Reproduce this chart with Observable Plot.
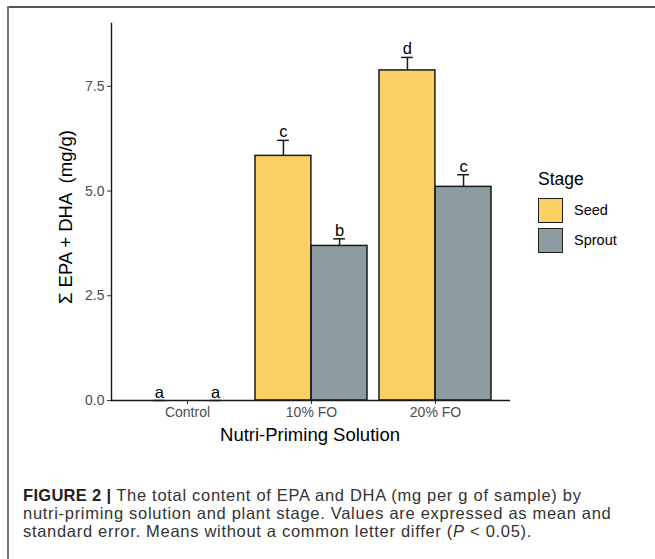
<!DOCTYPE html>
<html>
<head>
<meta charset="utf-8">
<script src="https://cdn.jsdelivr.net/npm/d3@7"></script>
<script src="https://cdn.jsdelivr.net/npm/@observablehq/plot@0.6"></script>
<style>
  html, body { margin: 0; padding: 0; background: #fff; }
  #fig { position: relative; width: 655px; height: 559px; overflow: hidden; font-family: "Liberation Sans", Arial, sans-serif; }
  #topline { position: absolute; left: 7px; top: 6px; width: 660px; height: 2px; background: #555; }
  #leftline { position: absolute; left: 7px; top: 6px; width: 2px; height: 560px; background: #777; }
  #chart { position: absolute; left: 0; top: 0; }
  .ttl { position: absolute; color: #000; white-space: pre; }
  #xtitle { left: 310px; top: 435px; transform: translate(-50%, -50%); font-size: 18.5px; }
  #ytitle { left: 66px; top: 217px; transform: translate(-50%, -50%) rotate(-90deg); font-size: 18.5px; }
  #legend { position: absolute; left: 538px; top: 168px; }
  #legend .lt { font-size: 17.5px; color: #000; margin-bottom: 5px; line-height: 22px; }
  #legend .row { display: flex; align-items: center; height: 30px; }
  #legend .sw { width: 23px; height: 23px; border: 1.5px solid #222; box-sizing: content-box; }
  #legend .lab { font-size: 14.5px; margin-left: 11px; color: #000; }
  #caption { position: absolute; left: 23px; top: 486px; font-size: 16.5px; letter-spacing: 0.7px; line-height: 18px; color: #333; white-space: nowrap; }
  #caption b { color: #222; letter-spacing: 0.3px; }
</style>
</head>
<body>
<div id="fig">
  <div id="topline"></div>
  <div id="leftline"></div>
  <div id="chart"></div>
  <div id="ytitle" class="ttl">Σ EPA + DHA  (mg/g)</div>
  <div id="xtitle" class="ttl">Nutri-Priming Solution</div>
  <div id="legend"></div>
  <div id="caption"><b>FIGURE 2 |</b> The total content of EPA and DHA (mg per g of sample) by<br>nutri-priming solution and plant stage. Values are expressed as mean and<br>standard error. Means without a common letter differ (<i>P</i> &lt; 0.05).</div>
</div>
<script>
const solutions = ["Control", "10% FO", "20% FO"];
const stages = ["Seed", "Sprout"];
const seedMean = [0, 5.84, 7.88];
const seedSE = [0, 0.37, 0.31];
const sproutMean = [0, 3.69, 5.10];
const sproutSE = [0, 0.17, 0.29];
const seedLetters = ["a", "c", "d"];
const sproutLetters = ["a", "b", "c"];
const stageColors = ["#FDD063", "#8C9CA1"];
const yTicks = [0, 2.5, 5.0, 7.5];

const rows = [];
solutions.forEach((s, i) => {
  rows.push({solution: s, stage: "Seed", mean: seedMean[i], se: seedSE[i], letter: seedLetters[i]});
  rows.push({solution: s, stage: "Sprout", mean: sproutMean[i], se: sproutSE[i], letter: sproutLetters[i]});
});
const seedRows = rows.filter(d => d.stage === "Seed");
const sproutRows = rows.filter(d => d.stage === "Sprout");

const W = 540, ML = 111, MR = 30;
const paddingInner = 0.1, paddingOuter = 0.15;
const step = (W - ML - MR) / (solutions.length - paddingInner + 2 * paddingOuter);
const bw = step * (1 - paddingInner);
const half = bw / 2, q = bw / 4, capHalf = 6;

const barStyle = {stroke: "#1a1a1a", strokeWidth: 1.5};
const errMarks = (data, off) => [
  Plot.ruleX(data, {x: "solution", y1: "mean", y2: d => d.mean + d.se, dx: off, stroke: "#1a1a1a", strokeWidth: 1.5}),
  Plot.tickY(data, {x: "solution", y: d => d.mean + d.se, dx: off, insetLeft: half - capHalf, insetRight: half - capHalf, stroke: "#1a1a1a", strokeWidth: 1.5}),
  Plot.text(data, {x: "solution", y: d => d.mean + d.se, text: "letter", dx: off, dy: -3, lineAnchor: "bottom", fontSize: 16.5, fill: "#000"})
];

const chart = Plot.plot({
  width: W, height: 450,
  marginLeft: ML, marginRight: MR, marginTop: 23, marginBottom: 50,
  style: {fontFamily: "Liberation Sans, Arial, sans-serif", fontSize: "14px", background: "transparent"},
  x: {domain: solutions, paddingInner, paddingOuter, label: null},
  y: {domain: [0, 9.0], label: null},
  color: {domain: stages, range: stageColors},
  marks: [
    Plot.barY(seedRows, {x: "solution", y: "mean", fill: "stage", insetRight: half, ...barStyle}),
    Plot.barY(sproutRows, {x: "solution", y: "mean", fill: "stage", insetLeft: half, ...barStyle}),
    ...errMarks(seedRows, -q),
    ...errMarks(sproutRows, q),
    Plot.axisY({ticks: yTicks, tickFormat: d3.format(".1f"), tickSize: 4, tickPadding: 3, stroke: "#333", fill: "#4d4d4d", label: null}),
    Plot.axisX({tickSize: 4, tickPadding: 3, stroke: "#333", fill: "#4d4d4d", label: null}),
    Plot.frame({anchor: "left", stroke: "#1a1a1a", strokeWidth: 1.4}),
    Plot.ruleY([0], {stroke: "#1a1a1a", strokeWidth: 1.4})
  ]
});
document.getElementById("chart").appendChild(chart);

const leg = document.getElementById("legend");
const lt = document.createElement("div");
lt.className = "lt"; lt.textContent = "Stage";
leg.appendChild(lt);
stages.forEach(s => {
  const r = document.createElement("div"); r.className = "row";
  const sw = document.createElement("div"); sw.className = "sw"; sw.style.background = chart.scale("color").apply(s);
  const lab = document.createElement("div"); lab.className = "lab"; lab.textContent = s;
  r.appendChild(sw); r.appendChild(lab); leg.appendChild(r);
});
</script>
</body>
</html>
